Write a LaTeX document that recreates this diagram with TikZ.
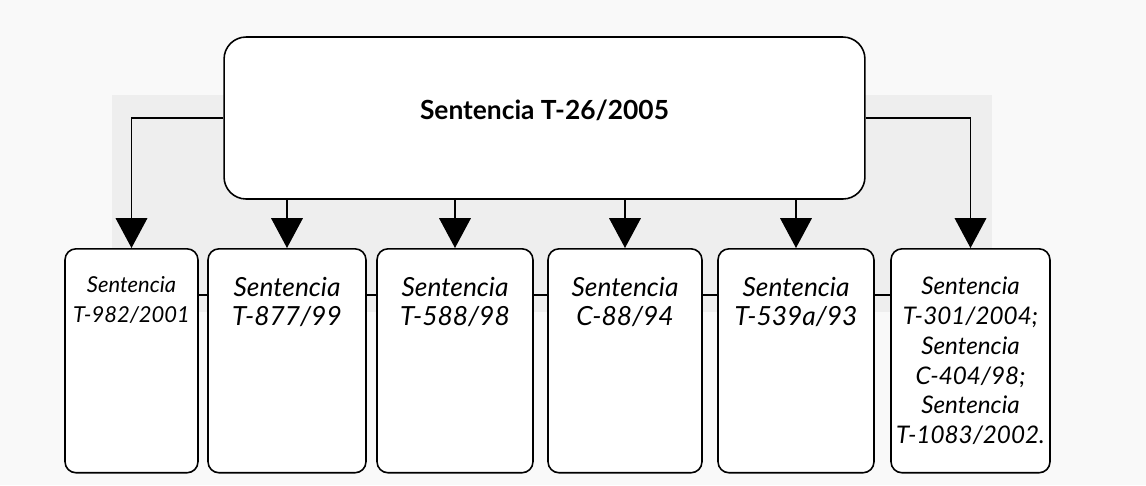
\documentclass[tikz,border=0pt]{standalone}
\usepackage{fontspec}
\setmainfont{Lato}
\usetikzlibrary{arrows.meta}

\tikzset{
    bigarrow/.style={-{Triangle[width=18pt,length=17pt]}, line width=0.8pt},
    sbox/.style={draw, line width=0.9pt, rounded corners=0.22cm, fill=white,
        anchor=north, inner xsep=0pt, inner ysep=0.56cm,
        font=\itshape\fontsize{15}{17}\selectfont}
}
\newcommand{\boxtext}[2]{\parbox[t][3.36cm][t]{#1}{\centering #2}}

\begin{document}
\begin{tikzpicture}[x=0.02cm, y=-0.02cm]
    % page and grey band behind the arrows
    \fill[gray!5] (0,0) rectangle (1146,485);
    \fill[gray!13] (112,95) rectangle (992,312);

    \node[draw, line width=0.9pt, rounded corners=0.44cm, fill=white,
        minimum width=12.82cm, minimum height=3.24cm, text depth=9pt,
        font=\bfseries\fontsize{15}{17}\selectfont] (main) at (544.5,118) {Sentencia T-26/2005};

    \begin{scope}[every node/.style={sbox}]
        \node[font=\itshape\fontsize{12.5}{17}\selectfont] (s1) at (131.5,248) {\boxtext{2.66cm}{Sentencia\\T-982/2001}};
        \node (s2) at (287,248) {\boxtext{3.16cm}{Sentencia\\T-877/99}};
        \node (s3) at (455,248) {\boxtext{3.12cm}{Sentencia\\T-588/98}};
        \node (s4) at (625,248) {\boxtext{3.08cm}{Sentencia\\C-88/94}};
        \node (s5) at (796,248) {\boxtext{3.12cm}{Sentencia\\T-539a/93}};
        \node[font=\itshape\fontsize{13.8}{17}\selectfont] (s6) at (970.5,248) {\boxtext{3.18cm}{Sentencia\\\mbox{T-301/2004;}\\Sentencia\\C-404/98;\\Sentencia\\\mbox{T-1083/2002.}}};
    \end{scope}

    % short links between neighbouring boxes
    \coordinate (link) at (0,295);
    \foreach \a/\b in {s1/s2, s2/s3, s3/s4, s4/s5, s5/s6}
        \draw[line width=0.9pt] (\a.east |- link) -- (\b.west |- link);

    \draw[bigarrow] (main.west) -| (s1.north);
    \draw[bigarrow] (main.east) -| (s6.north);
    \foreach \b in {s2, s3, s4, s5}
        \draw[bigarrow] (main.south -| \b.north) -- (\b.north);
\end{tikzpicture}
\end{document}
